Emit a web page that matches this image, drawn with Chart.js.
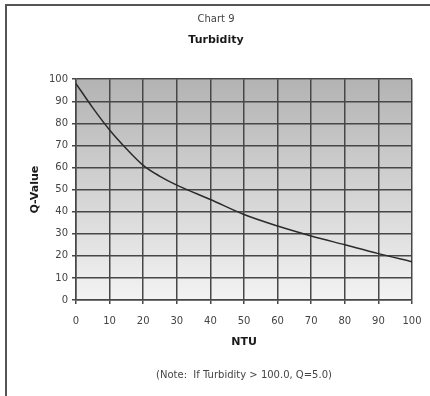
<!DOCTYPE html>
<html>
<head>
<meta charset="utf-8">
<script src="https://cdn.jsdelivr.net/npm/chart.js@4/dist/chart.umd.min.js"></script>
<style>
  html, body { margin: 0; padding: 0; background: #fff; }
  #wrap { width: 430px; height: 396px; position: relative; }
</style>
</head>
<body>
<div id="wrap"><canvas id="turbidityChart"></canvas></div>
<script>
// turbidity (NTU) vs Q-value
var ntuValues = [0, 5, 10, 15, 20, 25, 30, 40, 50, 60, 70, 80, 90, 100];
var qValues = [98, 87, 77, 68.5, 61, 56, 52, 45.5, 38.7, 33.5, 29, 25, 21, 17.3];
var tickValues = [0, 10, 20, 30, 40, 50, 60, 70, 80, 90, 100];
var noteText = '(Note:  If Turbidity > 100.0, Q=5.0)';

var fontFamily = '"DejaVu Sans", Verdana, sans-serif';
var gridColor = '#474747';

var points = ntuValues.map(function (x, i) {
  return { x: x, y: qValues[i] };
});

// gray gradient behind the plot, frame round the picture, the note below
var chartDecor = {
  id: 'chartDecor',
  beforeDraw: function (chart) {
    var ctx = chart.ctx;
    var a = chart.chartArea;
    var grad = ctx.createLinearGradient(0, a.top, 0, a.bottom);
    grad.addColorStop(0, '#b3b3b3');
    grad.addColorStop(1, '#f3f3f3');
    ctx.save();
    ctx.fillStyle = grad;
    ctx.fillRect(a.left, a.top, a.right - a.left, a.bottom - a.top);
    ctx.restore();
  },
  afterDraw: function (chart) {
    var ctx = chart.ctx;
    var a = chart.chartArea;
    ctx.save();
    ctx.strokeStyle = '#555';
    ctx.lineWidth = 2;
    ctx.beginPath();
    ctx.moveTo(6, 396);
    ctx.lineTo(6, 5);
    ctx.lineTo(430, 5);
    ctx.stroke();
    ctx.fillStyle = '#444';
    ctx.font = '10px ' + fontFamily;
    ctx.textAlign = 'center';
    ctx.textBaseline = 'middle';
    ctx.fillText(noteText, (a.left + a.right) / 2, 375);
    ctx.restore();
  }
};

var ctx = document.getElementById('turbidityChart').getContext('2d');
var turbidityChart = new Chart(ctx, {
  type: 'line',
  data: {
    datasets: [{
      data: points,
      borderColor: '#2b2b2b',
      borderWidth: 1.5,
      pointRadius: 0,
      fill: false,
      cubicInterpolationMode: 'monotone'
    }]
  },
  options: {
    responsive: true,
    maintainAspectRatio: false,
    animation: false,
    layout: { padding: { left: 20, right: 18, top: 0, bottom: 44 } },
    plugins: {
      legend: { display: false },
      tooltip: { enabled: false },
      title: {
        display: true,
        text: 'Chart 9',
        color: '#444',
        font: { family: fontFamily, size: 10, weight: 'normal' },
        padding: { top: 13, bottom: 0 }
      },
      subtitle: {
        display: true,
        text: 'Turbidity',
        color: '#1a1a1a',
        font: { family: fontFamily, size: 11, weight: 'bold' },
        padding: { top: 9, bottom: 32 }
      }
    },
    scales: {
      x: {
        type: 'linear',
        min: 0,
        max: 100,
        afterFit: function (s) {
          s.height = 52;
          s.paddingLeft = 0;
          s.paddingRight = 0;
        },
        afterBuildTicks: function (s) {
          s.ticks = tickValues.map(function (v) { return { value: v }; });
        },
        ticks: {
          color: '#444',
          padding: 11,
          maxRotation: 0,
          font: { family: fontFamily, size: 10 }
        },
        grid: { color: gridColor, lineWidth: 1.5, tickLength: 4, tickColor: gridColor },
        border: { color: gridColor, width: 1.5 },
        title: {
          display: true,
          text: 'NTU',
          color: '#1a1a1a',
          font: { family: fontFamily, size: 11, weight: 'bold' },
          padding: { top: 0, bottom: 3.4 }
        }
      },
      y: {
        min: 0,
        max: 100,
        afterFit: function (s) { s.width = 56; },
        ticks: {
          stepSize: 10,
          color: '#444',
          padding: 4,
          font: { family: fontFamily, size: 10 }
        },
        grid: { color: gridColor, lineWidth: 1.5, tickLength: 4, tickColor: gridColor },
        border: { color: gridColor, width: 1.5 },
        title: {
          display: true,
          text: 'Q-Value',
          color: '#1a1a1a',
          font: { family: fontFamily, size: 11, weight: 'bold' },
          padding: { top: 8.4, bottom: 0 }
        }
      }
    }
  },
  plugins: [chartDecor]
});
</script>
</body>
</html>
